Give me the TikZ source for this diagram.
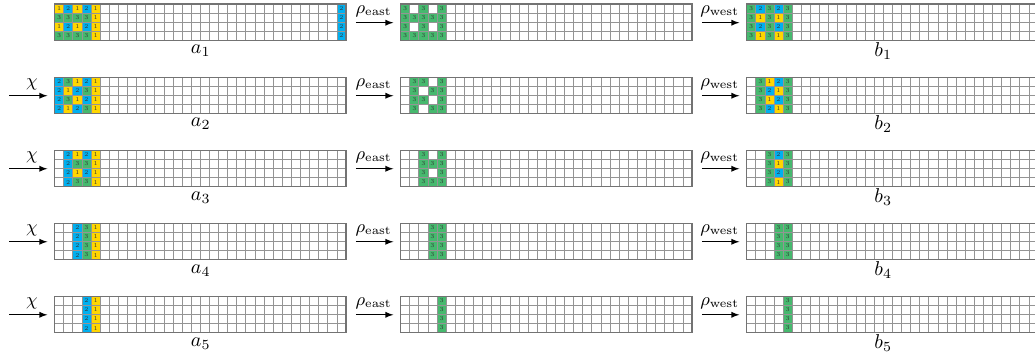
\documentclass[tikz,border=0pt]{standalone}
\usepackage{amsmath,amssymb}
\usepackage{tikz}
\usetikzlibrary{positioning}
\newdimen\unitsize
\setlength{\unitsize}{4.55pt}
\definecolor{sh1}{RGB}{255,214,0}
\definecolor{sh2}{RGB}{0,176,240}
\definecolor{sh3}{RGB}{70,185,110}
\tikzset{
  cellnum/.style={font=\fontsize{3}{3}\selectfont,inner sep=0pt,text=black!80},
  gridbox/.style={inner sep=0pt,minimum width=32\unitsize,
    minimum height=4\unitsize,anchor=north west},
  gridline/.style={draw=black!42,line width=0.35pt},
  gridframe/.style={draw=black!55,line width=0.6pt},
  maparrow/.style={->,>=latex,shorten >=0.8\unitsize},
  maplabel/.style={midway,above,font=\small,inner sep=2.6pt},
}
% #1 name, #2/#3 top left, #4 cells of rows 1,3, #5 cells of rows 2,4
\newcommand{\shgrid}[5]{%
  \begin{scope}[shift={(#2,#3)}]
  \node[gridbox] (#1) at (0,0) {};
  \foreach \shrow in {1,3}{
    \foreach \shcol/\shval in {#4}{
      \fill[sh\shval] (\shcol-1,1-\shrow) rectangle ++(1,-1);
      \node[cellnum] (#1-\shcol-\shrow) at (\shcol-0.5,0.5-\shrow) {\shval};
    }
  }
  \foreach \shrow in {2,4}{
    \foreach \shcol/\shval in {#5}{
      \fill[sh\shval] (\shcol-1,1-\shrow) rectangle ++(1,-1);
      \node[cellnum] (#1-\shcol-\shrow) at (\shcol-0.5,0.5-\shrow) {\shval};
    }
  }
  \foreach \shi in {1,...,31} \draw[gridline] (\shi,0) -- (\shi,-4);
  \foreach \shi in {1,...,3} \draw[gridline] (0,-\shi) -- (32,-\shi);
  \draw[gridframe] (0,0) rectangle (32,-4);
  \end{scope}}

\begin{document}
\begin{tikzpicture}[x=\unitsize,y=\unitsize]
\useasboundingbox (0,0) rectangle (113.67,-38.77);
% row 1
\shgrid{a1}{6}{-0.45}{1/1,2/2,3/1,4/2,5/1,32/2}{1/3,2/3,3/3,4/3,5/1,32/2}
\shgrid{m1}{44}{-0.45}{1/3,3/3,5/3}{1/3,2/3,3/3,4/3,5/3}
\shgrid{b1}{82}{-0.45}{1/3,2/2,3/3,4/2,5/3}{1/3,2/1,3/3,4/1,5/3}
% row 2
\shgrid{a2}{6}{-8.47}{1/2,2/3,3/1,4/2,5/1}{1/2,2/1,3/2,4/3,5/1}
\shgrid{m2}{44}{-8.47}{2/3,3/3,5/3}{2/3,4/3,5/3}
\shgrid{b2}{82}{-8.47}{2/3,3/1,4/2,5/3}{2/3,3/2,4/1,5/3}
% row 3
\shgrid{a3}{6}{-16.49}{2/2,3/1,4/2,5/1}{2/2,3/3,4/3,5/1}
\shgrid{m3}{44}{-16.49}{3/3,5/3}{3/3,4/3,5/3}
\shgrid{b3}{82}{-16.49}{3/3,4/2,5/3}{3/3,4/1,5/3}
% row 4
\shgrid{a4}{6}{-24.51}{3/2,4/3,5/1}{3/2,4/3,5/1}
\shgrid{m4}{44}{-24.51}{4/3,5/3}{4/3,5/3}
\shgrid{b4}{82}{-24.51}{4/3,5/3}{4/3,5/3}
% row 5
\shgrid{a5}{6}{-32.53}{4/2,5/1}{4/2,5/1}
\shgrid{m5}{44}{-32.53}{5/3}{5/3}
\shgrid{b5}{82}{-32.53}{5/3}{5/3}
\foreach \k in {1,...,5}{
  \node[below=0.4\unitsize of a\k,inner sep=0pt] (la\k) {$a_{\k}$};
  \node[anchor=north,inner sep=0pt] (lb\k)
    at ([xshift=15\unitsize,yshift=-0.1\unitsize]b\k.south west) {$b_{\k}$};
  \draw[maparrow,shorten <=1\unitsize] (a\k) -- (m\k)
    node[maplabel] {$\rho_{\mathrm{east}}$};
  \draw[maparrow,shorten <=1\unitsize] (m\k) -- (b\k)
    node[maplabel] {$\rho_{\mathrm{west}}$};
}
\foreach \k in {2,...,5}{
  \coordinate (chi\k) at ([xshift=-5\unitsize]a\k.west);
  \draw[maparrow] (chi\k) -- (a\k) node[maplabel] {$\chi$};
}
\end{tikzpicture}
\end{document}
